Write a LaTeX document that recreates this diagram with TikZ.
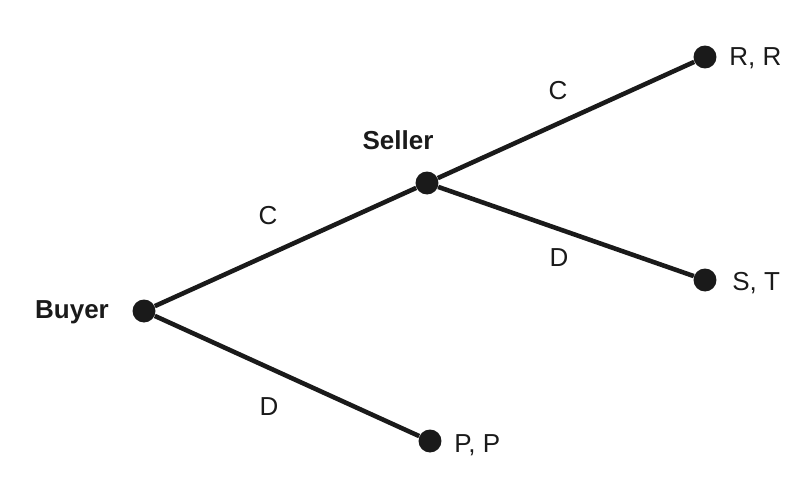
\documentclass[tikz,border=0pt]{standalone}
\usepackage{fontspec}
\setmainfont{Liberation Sans}
\definecolor{Ink}{HTML}{1A1A1A}
\tikzset{
	dot/.style={circle,fill=Ink,inner sep=0pt,minimum size=0.46cm},
	branch/.style={draw=Ink,line width=2.6pt},
	player/.style={font=\fontsize{14.8}{17}\selectfont\bfseries,text=Ink,inner sep=0pt,anchor=base},
	move/.style={font=\fontsize{14.8}{17}\selectfont,text=Ink,inner sep=0pt,anchor=base},
	payoff/.style={move,anchor=base west}
}
\begin{document}
\begin{tikzpicture}[x=0.02cm,y=-0.02cm]
			\useasboundingbox (0,0) rectangle (796,477);
			
			% decision nodes
			\node[dot] (buyer) at (144,311) {};
			\node[dot] (seller) at (427,183) {};
			
			% end nodes
			\node[dot] (rr) at (705,57) {};
			\node[dot] (st) at (705,280) {};
			\node[dot] (pp) at (430,441) {};
			
			% branches
			\draw[branch] (buyer) -- (seller);
			\draw[branch] (buyer) -- (pp);
			\draw[branch] (seller) -- (rr);
			\draw[branch] (seller) -- (st);
			
			% players
			\node[player] (buyername) at (72,318) {Buyer};
			\node[player] (sellername) at (398,149) {Seller};
			
			% moves
			\node[move] (buyerC) at (268,224) {C};
			\node[move] (buyerD) at (269,415) {D};
			\node[move] (sellerC) at (558,99) {C};
			\node[move] (sellerD) at (559,266) {D};
			
			% payoffs
			\node[payoff] (rrpay) at (729,65) {R, R};
			\node[payoff] (stpay) at (732,290) {S, T};
			\node[payoff] (pppay) at (454,452) {P, P};
		\end{tikzpicture}
\end{document}
